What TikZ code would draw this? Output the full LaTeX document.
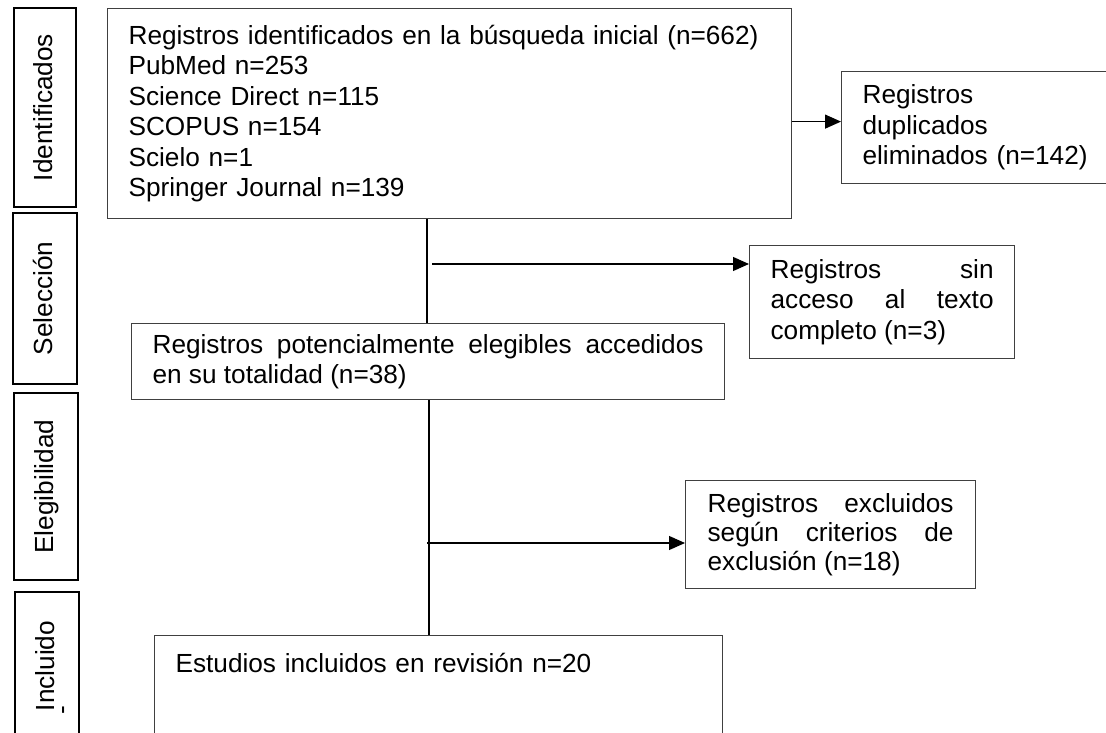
\documentclass[tikz,border=0pt]{standalone}
\usepackage{fontspec}
\setmainfont{Liberation Sans}
\usetikzlibrary{calc,arrows.meta}
\colorlet{boxline}{black!75}
\tikzstyle{box}=[draw=boxline,line width=1.2pt,anchor=north west,inner xsep=21pt,inner ysep=0pt,font=\fontsize{26.2}{30.5}\selectfont]
\tikzstyle{stage}=[draw=black,line width=2.2pt,rotate=90,inner sep=0pt,text height=19,text depth=5,font=\fontsize{26.2}{30}\selectfont]
\tikzstyle{arrow}=[-{Triangle[length=16pt,width=14pt]},line width=1.2pt]
\tikzstyle{trunk}=[line width=2.2pt]
\tikzstyle{stem}=[line width=1.2pt]
\begin{document}
\begin{tikzpicture}[x=1pt,y=-1pt]
  \useasboundingbox (0,0) rectangle (1106,733);
  \clip (0,0) rectangle (1106,733);

  % STAGES
  \node[stage,minimum width=199,minimum height=62] (ident) at (45,107.5) {Identificados};
  \node[stage,minimum width=171,minimum height=64] (selec) at (45,298.5) {Selección};
  \node[stage,minimum width=187,minimum height=64] (elegi) at (46,486.5) {Elegibilidad};
  \node[stage,minimum width=148,minimum height=64] (inclu) at (47,666) {Incluido};
  \node[rotate=90,inner sep=0pt,font=\fontsize{26.2}{30}\selectfont] (mark) at (67,710) {-};

  % BOXES
  \node[box,text width=642,minimum height=210,align=left] (found) at (107,8)
    {Registros identificados en la búsqueda inicial (n=662)\\PubMed n=253\\Science Direct n=115\\SCOPUS n=154\\Scielo n=1\\Springer Journal n=139};
  \node[box,text width=240,minimum height=112,align=left] (dup) at (841,71)
    {Registros\\duplicados\\eliminados (n=142)};
  \node[box,text width=223,minimum height=113,align=justify] (noacc) at (749,245)
    {Registros sin\linebreak acceso al texto\linebreak completo (n=3)};
  \node[box,text width=551,minimum height=76,align=justify] (elig) at (131,323)
    {Registros potencialmente elegibles accedidos\linebreak en su totalidad (n=38)};
  \node[box,text width=246,inner xsep=22pt,minimum height=108,align=justify,font=\fontsize{26.2}{29}\selectfont] (excl) at (685,480)
    {Registros excluidos\linebreak según criterios de\linebreak exclusión (n=18)};
  \node[box,text width=526,align=left,text height=37,text depth=120] (incl) at (154,635)
    {Estudios incluidos en revisión n=20};

  % CONNECTORS
  \coordinate (trunk) at (427,0);
  \coordinate (split1) at (432,264);
  \coordinate (stem) at (429,0);
  \coordinate (split2) at (427,543);
  \draw[arrow] ($(found.east)+(0,8)$) -- ($(dup.west)+(0,-6)$);
  \draw[trunk] (trunk |- found.south) -- (trunk |- elig.north);
  \draw[arrow] (split1) -- (split1 -| noacc.west);
  \draw[stem] (stem |- elig.south) -- (stem |- incl.north);
  \draw[arrow] (split2) -- (split2 -| excl.west);
\end{tikzpicture}
\end{document}
